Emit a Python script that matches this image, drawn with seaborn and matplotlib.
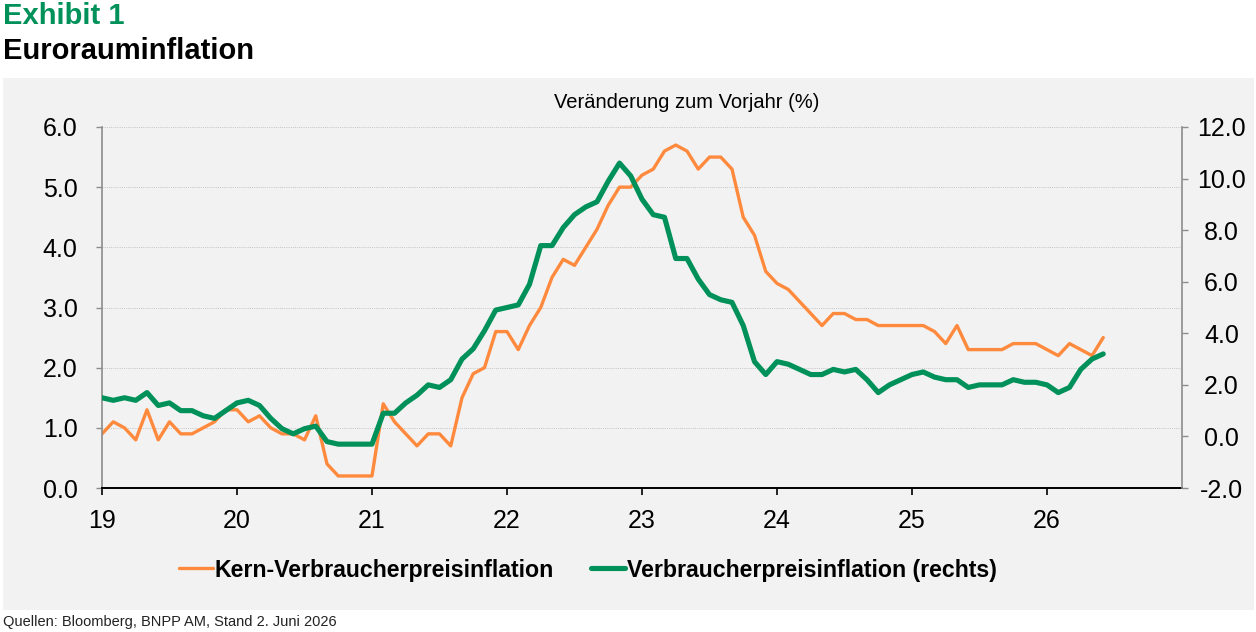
import matplotlib
matplotlib.use("Agg")
import matplotlib.pyplot as plt
from matplotlib.patches import Rectangle
from matplotlib.lines import Line2D
from matplotlib.ticker import FormatStrFormatter
import seaborn as sns
import pandas as pd

# ---- data (monthly, starting Dec 2018) ----
core = [0.9, 1.1, 1.0, 0.8, 1.3, 0.8, 1.1, 0.9, 0.9, 1.0, 1.1, 1.3,
        1.3, 1.1, 1.2, 1.0, 0.9, 0.9, 0.8, 1.2, 0.4, 0.2, 0.2, 0.2,
        0.2, 1.4, 1.1, 0.9, 0.7, 0.9, 0.9, 0.7, 1.5, 1.9, 2.0, 2.6,
        2.6, 2.3, 2.7, 3.0, 3.5, 3.8, 3.7, 4.0, 4.3, 4.7, 5.0, 5.0,
        5.2, 5.3, 5.6, 5.7, 5.6, 5.3, 5.5, 5.5, 5.3, 4.5, 4.2, 3.6,
        3.4, 3.3, 3.1, 2.9, 2.7, 2.9, 2.9, 2.8, 2.8, 2.7, 2.7, 2.7,
        2.7, 2.7, 2.6, 2.4, 2.7, 2.3, 2.3, 2.3, 2.3, 2.4, 2.4, 2.4,
        2.3, 2.2, 2.4, 2.3, 2.2, 2.5]
headline = [1.5, 1.4, 1.5, 1.4, 1.7, 1.2, 1.3, 1.0, 1.0, 0.8, 0.7, 1.0,
            1.3, 1.4, 1.2, 0.7, 0.3, 0.1, 0.3, 0.4, -0.2, -0.3, -0.3, -0.3,
            -0.3, 0.9, 0.9, 1.3, 1.6, 2.0, 1.9, 2.2, 3.0, 3.4, 4.1, 4.9,
            5.0, 5.1, 5.9, 7.4, 7.4, 8.1, 8.6, 8.9, 9.1, 9.9, 10.6, 10.1,
            9.2, 8.6, 8.5, 6.9, 6.9, 6.1, 5.5, 5.3, 5.2, 4.3, 2.9, 2.4,
            2.9, 2.8, 2.6, 2.4, 2.4, 2.6, 2.5, 2.6, 2.2, 1.7, 2.0, 2.2,
            2.4, 2.5, 2.3, 2.2, 2.2, 1.9, 2.0, 2.0, 2.0, 2.2, 2.1, 2.1,
            2.0, 1.7, 1.9, 2.6, 3.0, 3.2]
month_index = list(range(len(core)))
year_labels = ["19", "20", "21", "22", "23", "24", "25", "26"]
year_ticks = [12 * k for k in range(len(year_labels))]
left_ticks = [0, 1, 2, 3, 4, 5, 6]
right_ticks = [-2, 0, 2, 4, 6, 8, 10, 12]

label_core = "Kern-Verbraucherpreisinflation"
label_head = "Verbraucherpreisinflation (rechts)"

ORANGE = "#FF8A3D"
GREEN = "#00915A"
PANEL = "#F2F2F2"

df = pd.DataFrame({"m": month_index, "core": core, "headline": headline})

sns.set_theme(style="white")
plt.rcParams["font.family"] = ["Liberation Sans", "DejaVu Sans"]
plt.rcParams["text.color"] = "black"
plt.rcParams["xtick.labelcolor"] = "black"
plt.rcParams["ytick.labelcolor"] = "black"

W, H = 1256, 632
fig = plt.figure(figsize=(W / 100, H / 100), dpi=100, facecolor="white")

# grey panel behind everything
fig.patches.append(Rectangle((3 / W, 1 - 610 / H), (1254 - 3) / W, (610 - 78) / H,
                             transform=fig.transFigure, facecolor=PANEL,
                             edgecolor="none", zorder=-5))

ax = fig.add_axes([102 / W, 1 - 488 / H, (1182 - 102) / W, (488 - 127) / H])
ax.set_facecolor(PANEL)
ax2 = ax.twinx()

sns.lineplot(data=df, x="m", y="core", ax=ax, color=ORANGE, lw=2.4)
sns.lineplot(data=df, x="m", y="headline", ax=ax2, color=GREEN, lw=3.7)

ax.set_xlim(0, 96)
ax.set_ylim(0, 6)
ax2.set_ylim(-2, 12)
ax.set_xticks(year_ticks)
ax.set_xticklabels(year_labels)
ax.set_yticks(left_ticks)
ax2.set_yticks(right_ticks)
ax.yaxis.set_major_formatter(FormatStrFormatter("%.1f"))
ax2.yaxis.set_major_formatter(FormatStrFormatter("%.1f"))
ax.set_xlabel("")
ax.set_ylabel("")
ax2.set_ylabel("")

ax.yaxis.grid(True, linestyle=(0, (1, 1.2)), color="#C4C4C4", linewidth=0.7)
ax.xaxis.grid(False)
ax2.grid(False)
ax.set_axisbelow(True)

for s in ["top", "right"]:
    ax.spines[s].set_visible(False)
for s in ["top", "left", "bottom"]:
    ax2.spines[s].set_visible(False)
ax.spines["left"].set_color("#8C8C8C")
ax.spines["left"].set_linewidth(1.2)
ax.spines["bottom"].set_color("black")
ax.spines["bottom"].set_linewidth(1.4)
ax2.spines["right"].set_color("#8C8C8C")
ax2.spines["right"].set_linewidth(1.2)

ax.tick_params(axis="x", which="major", direction="out", length=5, width=1.2,
               color="black", labelsize=18, pad=10, bottom=True)
ax.tick_params(axis="y", which="major", direction="out", length=4.5, width=1.0,
               color="#8C8C8C", labelsize=18, pad=13, left=True)
ax2.tick_params(axis="y", which="major", direction="out", length=4.5, width=1.0,
                color="#8C8C8C", labelsize=18, pad=24, right=True)
for t in ax2.get_yticklabels():
    t.set_horizontalalignment("center")

if ax.get_legend() is not None:
    ax.get_legend().remove()
if ax2.get_legend() is not None:
    ax2.get_legend().remove()

# titles and texts
fig.text(3 / W, 1 - 16 / H, "Exhibit 1", color=GREEN, fontsize=21,
         fontweight="bold", ha="left", va="center")
fig.text(3 / W, 1 - 51 / H, "Eurorauminflation", color="black", fontsize=21,
         fontweight="bold", ha="left", va="center")
fig.text(687 / W, 1 - 103 / H, "Veränderung zum Vorjahr (%)", color="black",
         fontsize=14.5, ha="center", va="center")
fig.text(3 / W, 1 - 622 / H, "Quellen: Bloomberg, BNPP AM, Stand 2. Juni 2026",
         color="#222222", fontsize=10.5, ha="left", va="center")

handles = [Line2D([0], [0], color=ORANGE, lw=2.4),
           Line2D([0], [0], color=GREEN, lw=3.7)]
leg = fig.legend(handles, [label_core, label_head], loc="center",
                 bbox_to_anchor=(588 / W, 1 - 570 / H), ncol=2, frameon=False,
                 prop={"size": 16.7, "weight": "bold"}, handlelength=1.45,
                 handletextpad=0.08, columnspacing=1.6)
for t in leg.get_texts():
    t.set_color("black")

fig.savefig("out.png", dpi=100, facecolor="white")
